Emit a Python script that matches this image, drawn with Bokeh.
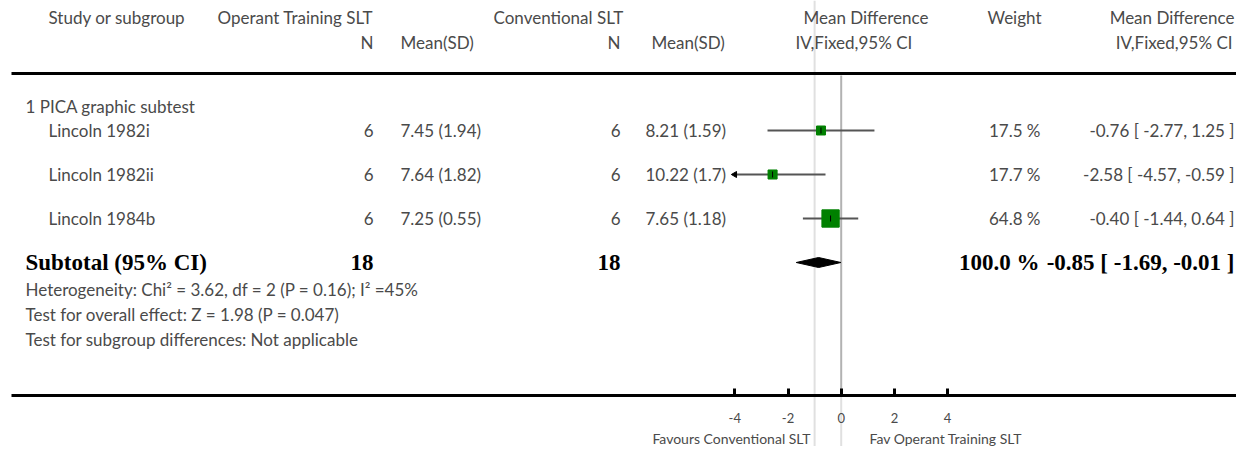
import math
from bokeh.plotting import figure
from bokeh.models import Range1d, LinearAxis, FixedTicker, ColumnDataSource
from bokeh.core.properties import value
from bokeh.embed import file_html
from bokeh.resources import INLINE

# ---------------- data ----------------
subgroup = "1 PICA graphic subtest"
studies = ["Lincoln 1982i", "Lincoln 1982ii", "Lincoln 1984b"]
n_operant = [6, 6, 6]
mean_operant = [7.45, 7.64, 7.25]
sd_operant = [1.94, 1.82, 0.55]
n_conv = [6, 6, 6]
mean_conv = [8.21, 10.22, 7.65]
sd_conv = [1.59, 1.7, 1.18]
weights = [17.5, 17.7, 64.8]
md = [-0.76, -2.58, -0.40]
md_lo = [-2.77, -4.57, -1.44]
md_hi = [1.25, -0.59, 0.64]
total_operant = 18
total_conv = 18
total_weight = 100.0
pooled_md = -0.85
pooled_lo = -1.69
pooled_hi = -0.01
ref_line = -1.0
heterogeneity = "Heterogeneity: Chi\u00b2 = 3.62, df = 2 (P = 0.16); I\u00b2 =45%"
overall_test = "Test for overall effect: Z = 1.98 (P = 0.047)"
subgroup_test = "Test for subgroup differences: Not applicable"
tick_values = [-4, -2, 0, 2, 4]
tick_labels = ["-4", "-2", "0", "2", "4"]
plot_limits = (-4, 4)
favours_left = "Favours Conventional SLT"
favours_right = "Fav Operant Training SLT"

# ---------------- layout ----------------
W, H = 1236, 446
ZERO_PX = 840.7
PX_PER_UNIT = 26.6
FONT_NAME = "Lato"
FONT = value(FONT_NAME)
SERIF = value("Liberation Serif")
TXT = "#4a4a4a"
FS = "17px"
BFS = "23px"
RIGHT = 1234

Y_H1, Y_H2, Y_RULE = 17, 42, 73
Y_SUB = 106
ROW_Y = [130, 174, 218]
Y_TOT = 262
Y_NOTES = [289, 314, 339]
Y_AXIS = 395
Y_FAV = 438

p = figure(width=W, height=H, output_backend="svg", toolbar_location=None,
           x_range=Range1d(0, W), y_range=Range1d(H, 0),
           x_axis_location=None, y_axis_location=None, min_border=0,
           outline_line_color=None, background_fill_color="white")
for g in p.grid:
    g.visible = False
p.extra_x_ranges = {"md": Range1d((0 - ZERO_PX) / PX_PER_UNIT,
                                  (W - ZERO_PX) / PX_PER_UNIT)}

# vertical reference lines
p.segment(x0=[ref_line], y0=[0], x1=[ref_line], y1=[H], x_range_name="md",
          line_color="#e0e0e0", line_width=2)
p.segment(x0=[0], y0=[Y_AXIS], x1=[0], y1=[H], x_range_name="md",
          line_color="#e0e0e0", line_width=2)
p.segment(x0=[0], y0=[Y_RULE + 2], x1=[0], y1=[Y_AXIS], x_range_name="md",
          line_color="#b2b2b2", line_width=2)

# top rule
p.segment(x0=[11], y0=[Y_RULE], x1=[W], y1=[Y_RULE], line_color="black", line_width=3)

def txt(x, y, t, align="left", size=FS, font=FONT, color=TXT, style="normal"):
    p.text(x=x, y=y, text=t, text_align=align, text_baseline="middle",
           text_font=font, text_font_size=size, text_color=color, text_font_style=style)

# headers
txt([48], [Y_H1], ["Study or subgroup"])
txt([217], [Y_H1], ["Operant Training SLT"])
txt([493], [Y_H1], ["Conventional SLT"])
txt([803], [Y_H1], ["Mean Difference"])
txt([987], [Y_H1], ["Weight"])
txt([RIGHT], [Y_H1], ["Mean Difference"], align="right")
txt([373, 620], [Y_H2, Y_H2], ["N", "N"], align="right")
txt([400, 651, 795], [Y_H2] * 3, ["Mean(SD)", "Mean(SD)", "IV,Fixed,95% CI"])
txt([RIGHT - 2], [Y_H2], ["IV,Fixed,95% CI"], align="right")

# subgroup
txt([25], [Y_SUB], [subgroup])

# study rows
n = len(studies)
txt([48] * n, ROW_Y, studies)
txt([373] * n, ROW_Y, [str(v) for v in n_operant], align="right")
txt([400] * n, ROW_Y, [f"{m} ({s})" for m, s in zip(mean_operant, sd_operant)])
txt([620] * n, ROW_Y, [str(v) for v in n_conv], align="right")
txt([645] * n, ROW_Y, [f"{m} ({s})" for m, s in zip(mean_conv, sd_conv)])
txt([1040] * n, ROW_Y, [f"{w:.1f} %" for w in weights], align="right")
txt([RIGHT] * n, ROW_Y, [f"{m:.2f} [ {a:.2f}, {b:.2f} ]" for m, a, b in zip(md, md_lo, md_hi)],
    align="right")

# forest marks
lo_c = [max(v, plot_limits[0]) for v in md_lo]
hi_c = [min(v, plot_limits[1]) for v in md_hi]
p.segment(x0=lo_c, y0=ROW_Y, x1=hi_c, y1=ROW_Y, x_range_name="md",
          line_color="#555555", line_width=2)
arrow_x = [plot_limits[0] for v in md_lo if v < plot_limits[0]]
arrow_y = [y for v, y in zip(md_lo, ROW_Y) if v < plot_limits[0]]
if arrow_x:
    p.scatter(x=arrow_x, y=arrow_y, marker="triangle", angle=math.pi / 2, size=6,
              fill_color="black", line_color="black", x_range_name="md")
src = ColumnDataSource(dict(x=md, y=ROW_Y, s=[2.15 * math.sqrt(w) for w in weights]))
p.scatter(x="x", y="y", size="s", marker="square", source=src, fill_color="#008000",
          line_color="#008000", x_range_name="md")
p.scatter(x="x", y="y", size=6, marker="dash", angle=math.pi / 2, source=src,
          line_color="black", line_width=1, x_range_name="md")

# totals
txt([25], [Y_TOT], ["Subtotal (95% CI)"], size=BFS, font=SERIF, color="black", style="bold")
txt([373, 620], [Y_TOT, Y_TOT], [str(total_operant), str(total_conv)], align="right",
    size=BFS, font=SERIF, color="black", style="bold")
txt([1039], [Y_TOT], [f"{total_weight:.1f} %"], align="right", size=BFS, font=SERIF,
    color="black", style="bold")
txt([RIGHT], [Y_TOT], [f"{pooled_md:.2f} [ {pooled_lo:.2f}, {pooled_hi:.2f} ]"], align="right",
    size=BFS, font=SERIF, color="black", style="bold")
p.patch(x=[pooled_lo, pooled_md, pooled_hi, pooled_md],
        y=[Y_TOT, Y_TOT - 5, Y_TOT, Y_TOT + 5], x_range_name="md",
        fill_color="black", line_color="black")

txt([25] * 3, Y_NOTES, [heterogeneity, overall_test, subgroup_test])

# axis
ax = LinearAxis(x_range_name="md", fixed_location=Y_AXIS,
                ticker=FixedTicker(ticks=tick_values),
                major_label_overrides={v: s for v, s in zip(tick_values, tick_labels)},
                bounds=((11 - ZERO_PX) / PX_PER_UNIT, (W - ZERO_PX) / PX_PER_UNIT),
                axis_line_width=3, axis_line_color="black",
                major_tick_in=7, major_tick_out=0, major_tick_line_width=3,
                major_tick_line_color="black", minor_tick_line_color=None,
                major_label_standoff=17, major_label_text_font=FONT_NAME,
                major_label_text_font_size="13px", major_label_text_color=TXT)
p.add_layout(ax, "below")

txt([810], [Y_FAV], [favours_left], align="right", size="14px")
txt([869], [Y_FAV], [favours_right], size="14px")

open("out.html", "w").write(file_html(p, INLINE))
